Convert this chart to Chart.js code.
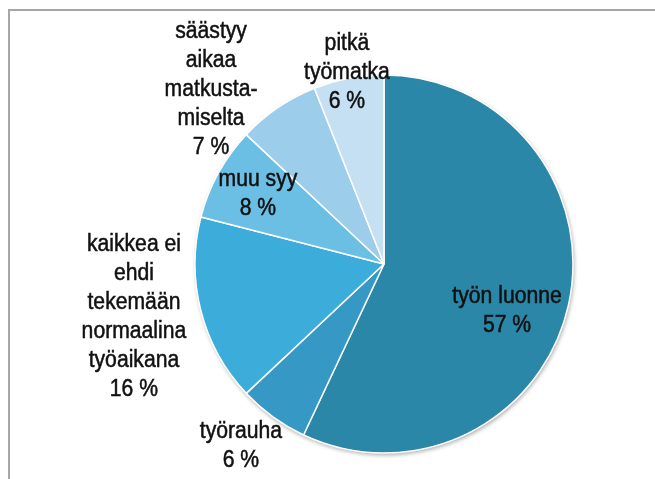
<!DOCTYPE html>
<html>
<head>
<meta charset="utf-8">
<script src="https://cdn.jsdelivr.net/npm/chart.js@4"></script>
<style>
  html, body { margin: 0; padding: 0; background: #ffffff; }
  #wrap { position: relative; width: 655px; height: 479px; overflow: hidden; }
  #frame { position: absolute; left: 8px; top: 9px; width: 700px; height: 520px;
           border-top: 2px solid #a6a6a6; border-left: 2px solid #a6a6a6; }
  canvas { position: absolute; left: 0; top: 0; }
</style>
</head>
<body>
<div id="wrap">
  <div id="frame"></div>
  <canvas id="c" width="655" height="479"></canvas>
</div>
<script>
// Data
const categories = [
  ["työn luonne"],
  ["työrauha"],
  ["kaikkea ei", "ehdi", "tekemään", "normaalina", "työaikana"],
  ["muu syy"],
  ["säästyy", "aikaa", "matkusta-", "miselta"],
  ["pitkä", "työmatka"]
];
const values = [57, 6, 16, 8, 7, 6];
const colors = ["#2b87a8", "#3598c5", "#3cadda", "#6cbfe4", "#9ccdeb", "#c4e0f2"];

// Label placement relative to the pie centre, in units of the pie radius
const labelOffsets = [
  [0.651, 0.249],
  [-0.757, 0.963],
  [-1.323, 0.283],
  [-0.667, -0.370],
  [-0.915, -0.925],
  [-0.196, -1.012]
];

const pieShadow = {
  id: 'pieShadow',
  beforeDatasetsDraw(chart) {
    const arc = chart.getDatasetMeta(0).data[0];
    if (!arc) return;
    const ctx = chart.ctx;
    ctx.save();
    ctx.shadowColor = 'rgba(0,0,0,0.35)';
    ctx.shadowBlur = 4;
    ctx.shadowOffsetX = 1;
    ctx.shadowOffsetY = 2;
    ctx.fillStyle = '#ffffff';
    ctx.beginPath();
    ctx.arc(arc.x, arc.y, arc.outerRadius, 0, Math.PI * 2);
    ctx.fill();
    ctx.restore();
  }
};

const sliceLabels = {
  id: 'sliceLabels',
  afterDatasetsDraw(chart) {
    const meta = chart.getDatasetMeta(0);
    const ctx = chart.ctx;
    const lineH = 29;
    meta.data.forEach((arc, i) => {
      const R = arc.outerRadius;
      const cx = arc.x + labelOffsets[i][0] * R;
      const cy = arc.y + labelOffsets[i][1] * R;
      const lines = categories[i].concat([values[i] + " %"]);
      const top = cy - (lines.length - 1) * lineH / 2;
      ctx.save();
      ctx.fillStyle = '#111111';
      ctx.strokeStyle = '#111111';
      ctx.lineWidth = 0.5;
      ctx.font = '23px "Liberation Sans", Arial, sans-serif';
      ctx.textAlign = 'center';
      ctx.textBaseline = 'middle';
      lines.forEach((t, k) => {
        ctx.save();
        ctx.translate(cx, top + k * lineH);
        ctx.scale(0.92, 1);
        ctx.fillText(t, 0, 0);
        ctx.strokeText(t, 0, 0);
        ctx.restore();
      });
      ctx.restore();
    });
  }
};

new Chart(document.getElementById('c'), {
  type: 'pie',
  data: {
    labels: categories.map(l => l.join(' ')),
    datasets: [{
      data: values,
      backgroundColor: colors,
      borderColor: '#ffffff',
      borderWidth: 1.5
    }]
  },
  options: {
    responsive: false,
    animation: false,
    radius: 189,
    layout: { padding: { left: 113, right: 0, top: 49, bottom: 0 } },
    plugins: {
      legend: { display: false },
      tooltip: { enabled: false }
    }
  },
  plugins: [pieShadow, sliceLabels]
});
</script>
</body>
</html>
